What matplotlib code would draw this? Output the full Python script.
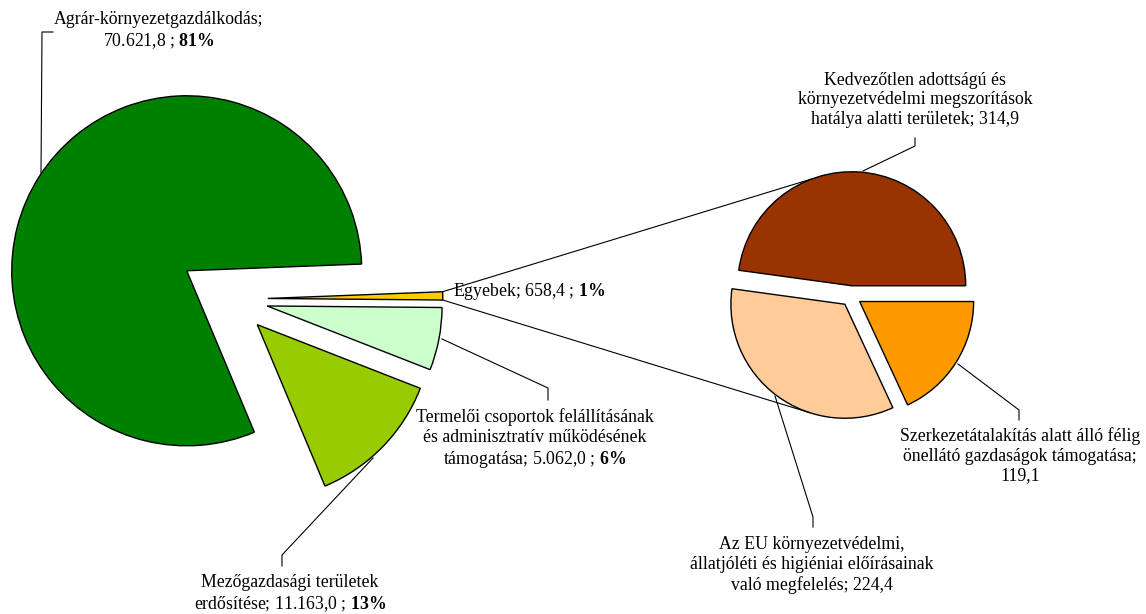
import numpy as np
import matplotlib.pyplot as plt

plt.rcParams['font.family'] = ['Liberation Serif', 'DejaVu Serif']
plt.rcParams['mathtext.fontset'] = 'custom'
plt.rcParams['mathtext.rm'] = 'Liberation Serif'
plt.rcParams['mathtext.bf'] = 'Liberation Serif:bold'

W, H = 1146, 614

# main pie data
main_labels = ['Agrár-környezetgazdálkodás', 'Mezőgazdasági területek erdősítése',
               'Termelői csoportok felállításának és adminisztratív működésének támogatása',
               'Egyebek']
main_values = [70621.8, 11163.0, 5062.0, 658.4]
main_colors = ['#008000', '#99CC00', '#CCFFCC', '#FFCC00']

# breakdown of "Egyebek"
sub_labels = ['Kedvezőtlen adottságú és környezetvédelmi megszorítások hatálya alatti területek',
              'Az EU környezetvédelmi, állatjóléti és higiéniai előírásainak való megfelelés',
              'Szerkezetátalakítás alatt álló félig önellátó gazdaságok támogatása']
sub_values = [314.9, 224.4, 119.1]
sub_colors = ['#993300', '#FFCC99', '#FF9900']


def hu(v):
    # hungarian number format: 70.621,8
    s = f'{v:,.1f}'
    return s.replace(',', ' ').replace('.', ',').replace(' ', '.')


def Y(y):
    return H - y


fig = plt.figure(figsize=(W / 100, H / 100), dpi=100)
ax = fig.add_axes([0, 0, 1, 1])

r_main, r_sub = 175, 114
wedge_kw = dict(edgecolor='black', linewidth=1.0)
# explode in pie() is in data units, so scale by radius
w_main, _ = ax.pie(main_values, colors=main_colors, startangle=2.2, counterclock=True,
                   explode=[0.30 * r_main, 0.21 * r_main, 0.21 * r_main, 0.21 * r_main],
                   radius=r_main, center=(231, Y(299)), wedgeprops=wedge_kw)
w_sub, _ = ax.pie(sub_values, colors=sub_colors, startangle=0, counterclock=True,
                  explode=[0.09 * r_sub] * 3, radius=r_sub, center=(851, Y(296)),
                  wedgeprops=wedge_kw)

ax.set_xlim(0, W)
ax.set_ylim(0, H)
ax.set_aspect('equal')
ax.axis('off')


# series lines from the "Egyebek" slice to the second pie
def wedge_pt(w, ang):
    cx, cy = w.center
    a = np.radians(ang)
    return cx + w.r * np.cos(a), cy + w.r * np.sin(a)


eg = w_main[3]
p1 = wedge_pt(eg, eg.theta2)
p2 = wedge_pt(eg, eg.theta1)
q1 = wedge_pt(w_sub[0], 110)
q2 = wedge_pt(w_sub[1], 252)
ax.plot([p1[0], q1[0]], [p1[1], q1[1]], color='black', lw=0.8)
ax.plot([p2[0], q2[0]], [p2[1], q2[1]], color='black', lw=0.8)

total = sum(main_values)
pct = [round(v / total * 100) for v in main_values]

fs = 12.8
lk = dict(color='black', lw=0.8)

# leader lines (image coords)
leaders = [
    [(53, 32), (42, 32), (41, 173)],
    [(373, 458), (282, 555), (282, 566)],
    [(442, 339), (548, 388), (548, 400)],
    [(863, 171), (915, 146), (915, 138)],
    [(775, 396), (813, 517), (813, 527)],
    [(958, 364), (1019, 410), (1019, 420)],
]
for pts in leaders:
    xs = [p[0] for p in pts]
    ys = [Y(p[1]) for p in pts]
    ax.plot(xs, ys, **lk)

tk = dict(fontsize=fs, ha='center', va='center', linespacing=1.2)
ax.text(159, Y(31), f'Agrár-környezetgazdálkodás;\n{hu(main_values[0])} ; $\\mathbf{{{pct[0]}\\%}}$', **tk)
ax.text(290, Y(594), f'Mezőgazdasági területek\nerdősítése; {hu(main_values[1])} ; $\\mathbf{{{pct[1]}\\%}}$', **tk)
ax.text(535, Y(439), f'Termelői csoportok felállításának\nés adminisztratív működésének\n'
        f'támogatása; {hu(main_values[2])} ; $\\mathbf{{{pct[2]}\\%}}$', **tk)
ax.text(453, Y(291), f'Egyebek; {hu(main_values[3])} ; $\\mathbf{{{pct[3]}\\%}}$',
        fontsize=fs, ha='left', va='center')
ax.text(915, Y(100), f'Kedvezőtlen adottságú és\nkörnyezetvédelmi megszorítások\n'
        f'hatálya alatti területek; {hu(sub_values[0])}', **tk)
ax.text(812, Y(565), f'Az EU környezetvédelmi,\nállatjóléti és higiéniai előírásainak\n'
        f'való megfelelés; {hu(sub_values[1])}', **tk)
ax.text(1020, Y(456), f'Szerkezetátalakítás alatt álló félig\nönellátó gazdaságok támogatása;\n'
        f'{hu(sub_values[2])}', **tk)

fig.savefig('out.png', dpi=100)
